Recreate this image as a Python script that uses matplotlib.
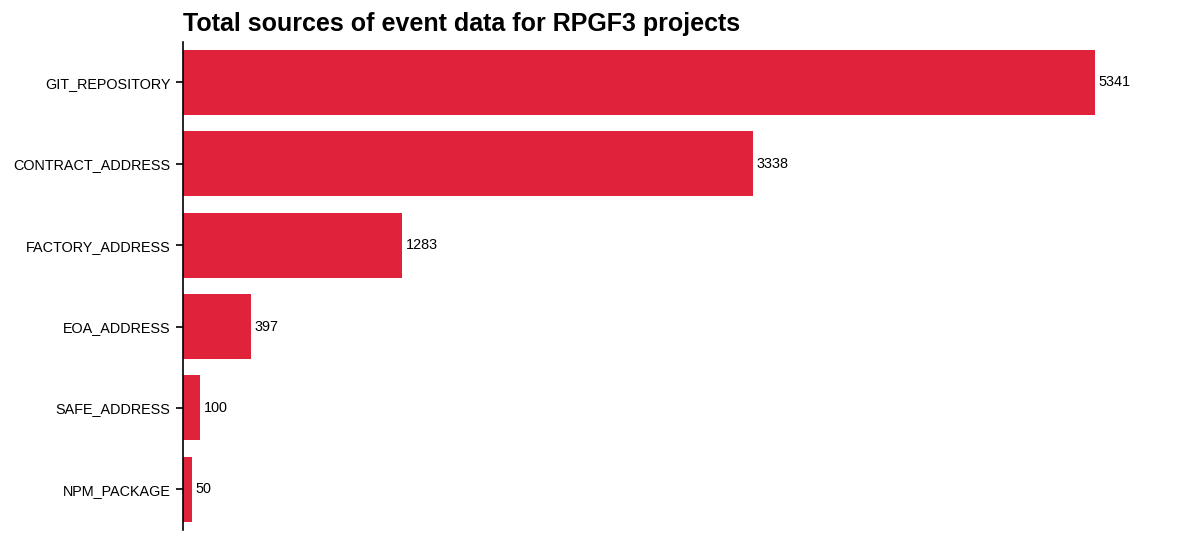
import matplotlib
matplotlib.use("Agg")
import matplotlib.pyplot as plt

plt.rcParams['font.family'] = ['Liberation Sans', 'DejaVu Sans']

sources = ['GIT_REPOSITORY', 'CONTRACT_ADDRESS', 'FACTORY_ADDRESS',
           'EOA_ADDRESS', 'SAFE_ADDRESS', 'NPM_PACKAGE']
counts = [5341, 3338, 1283, 397, 100, 50]

fig, ax = plt.subplots(figsize=(11.99, 5.43), dpi=100)
fig.subplots_adjust(left=0.1526, right=0.955, top=0.923, bottom=0.024)

bars = ax.barh(sources, counts, height=0.8, color='#E0233A')
for b, v in zip(bars, counts):
    ax.text(b.get_width() + 22, b.get_y() + b.get_height() / 2, str(v),
            va='center', ha='left', fontsize=10.4)

ax.set_ylim(5.5, -0.5)
ax.set_xlim(0, 5341 * 1.055)
ax.set_xticks([])
for s in ['top', 'right', 'bottom']:
    ax.spines[s].set_visible(False)
ax.spines['left'].set_linewidth(1.2)
ax.tick_params(axis='y', labelsize=10.4, length=5, width=1.2, pad=4)
ax.set_title('Total sources of event data for RPGF3 projects', loc='left',
             fontsize=18, fontweight='bold', pad=8)

plt.savefig('out.png', dpi=100)
plt.close()
